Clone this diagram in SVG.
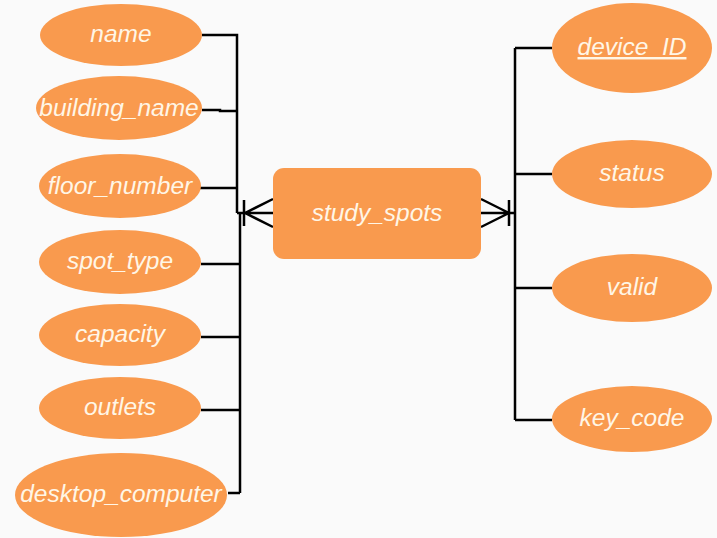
<svg xmlns="http://www.w3.org/2000/svg" width="717" height="538" viewBox="0 0 717 538">
<style>
.attr{fill:#f99a4e;}
.lbl{font-family:"Liberation Sans",Arial,sans-serif;font-style:italic;font-size:24.5px;fill:#fff6e6;text-anchor:middle;}
.ln{stroke:#000;stroke-width:2.5;fill:none;}
</style>
<rect width="717" height="538" fill="#fafafa"/>
<g id="connectors">
<path class="ln" d="M202,35 H237 V213 M240,213 V493 M202,110 H220 V111 H237 M200,188 H237 M201,264 H240 M201,337 H240 M201,410 H240 M228,493 H240"/>
<path class="ln" d="M237,213 H273 M244,200 V226 M245,213 L273,199 M245,213 L273,227"/>
<path class="ln" d="M515,48 V420 M515,48 H552 M515,174 H552 M515,288 H552 M515,420 H552"/>
<path class="ln" d="M481,213 H515 M509,200 V226 M509,213 L481,199 M509,213 L481,227"/>
</g>
<g id="study_spots"><rect x="273" y="168" width="208" height="91" rx="11" class="attr"/><text class="lbl" x="377" y="221">study_spots</text></g>
<g id="name"><ellipse cx="121" cy="35" rx="81" ry="31" class="attr"/><text class="lbl" x="121" y="42">name</text></g>
<g id="building_name"><ellipse cx="119" cy="108" rx="83" ry="32" class="attr"/><text class="lbl" x="119" y="116">building_name</text></g>
<g id="floor_number"><ellipse cx="120" cy="186" rx="81" ry="32" class="attr"/><text class="lbl" x="120" y="194">floor_number</text></g>
<g id="spot_type"><ellipse cx="120" cy="262" rx="81" ry="32" class="attr"/><text class="lbl" x="120" y="269">spot_type</text></g>
<g id="capacity"><ellipse cx="120" cy="335" rx="81" ry="31" class="attr"/><text class="lbl" x="120" y="342">capacity</text></g>
<g id="outlets"><ellipse cx="120" cy="408" rx="81" ry="31" class="attr"/><text class="lbl" x="120" y="415">outlets</text></g>
<g id="desktop_computer"><ellipse cx="121" cy="495" rx="106" ry="42" class="attr"/><text class="lbl" x="121" y="502">desktop_computer</text></g>
<g id="device_ID"><ellipse cx="632" cy="48" rx="80" ry="45" class="attr"/><text class="lbl" x="632" y="55" text-decoration="underline">device_ID</text></g>
<g id="status"><ellipse cx="632" cy="174" rx="80" ry="34" class="attr"/><text class="lbl" x="632" y="181">status</text></g>
<g id="valid"><ellipse cx="632" cy="288" rx="80" ry="34" class="attr"/><text class="lbl" x="632" y="295">valid</text></g>
<g id="key_code"><ellipse cx="632" cy="419" rx="80" ry="33" class="attr"/><text class="lbl" x="632" y="426">key_code</text></g>
</svg>
